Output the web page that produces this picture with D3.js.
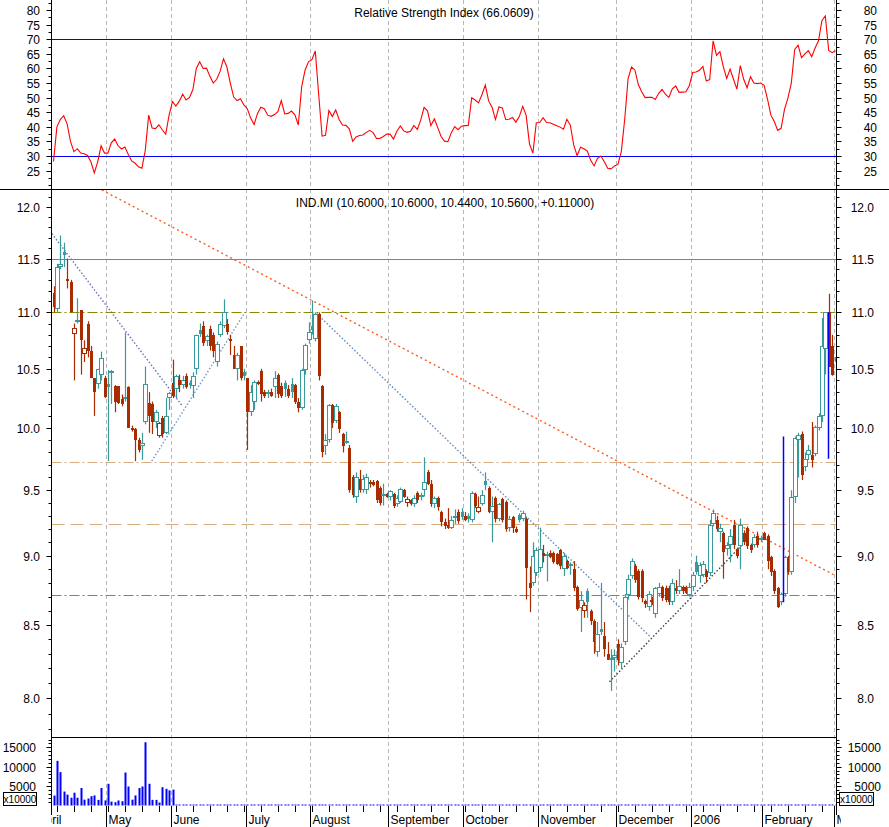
<!DOCTYPE html>
<html><head><meta charset="utf-8">
<script src="https://cdn.jsdelivr.net/npm/d3@7"></script>
<style>
body{margin:0;background:#fff}
svg{display:block}
text{font-family:"Liberation Sans",Arial,sans-serif;font-size:12px;fill:#000}
</style>
</head><body>
<svg id="c" width="889" height="827"></svg>
<script>
// ---------- DATA ----------
// candles: [open, high, low, close], one per trading day
const CANDLES = [
[11.18,11.24,11.00,11.05],[11.03,11.45,11.00,11.42],[11.42,11.72,11.40,11.45],[11.56,11.65,11.42,11.53],
[11.31,11.50,11.22,11.29],[11.28,11.30,11.00,11.00],[10.81,10.90,10.40,10.86],[10.92,11.13,10.90,10.93],
[11.02,11.02,10.45,10.75],[10.63,10.75,10.56,10.68],[10.90,10.92,10.60,10.66],[10.66,10.70,10.42,10.42],
[10.42,10.42,10.10,10.30],[10.37,10.50,10.33,10.50],[10.45,10.65,10.40,10.59],[10.42,10.44,10.25,10.26],
[10.37,10.49,9.73,10.34],[10.47,10.49,10.20,10.48],[10.35,10.36,10.13,10.22],[10.35,10.35,10.20,10.21],
[10.24,10.28,10.18,10.20],[10.25,10.82,10.22,10.26],[10.34,10.35,10.00,10.00],[10.00,10.02,9.97,9.98],
[9.99,10.00,9.73,9.90],[9.90,9.92,9.80,9.82],[9.85,9.96,9.74,9.88],[10.05,10.52,10.03,10.37],
[10.21,10.30,9.96,10.10],[10.20,10.22,9.95,10.05],[10.05,10.15,10.00,10.13],[9.93,10.05,9.92,10.04],
[10.08,10.10,9.92,9.95],[9.96,10.25,9.95,10.10],[10.25,10.30,10.15,10.29],[10.38,10.58,10.25,10.27],
[10.33,10.45,10.25,10.44],[10.40,10.45,10.30,10.36],[10.36,10.44,10.33,10.40],[10.44,10.46,10.33,10.34],
[10.38,10.40,10.33,10.36],[10.35,10.47,10.25,10.44],[10.50,10.80,10.45,10.80],[10.84,10.90,10.78,10.81],
[10.88,10.92,10.70,10.73],[10.74,10.80,10.70,10.79],[10.85,10.88,10.66,10.70],[10.80,10.82,10.60,10.66],
[10.56,10.74,10.52,10.72],[10.80,10.92,10.78,10.90],[10.88,11.12,10.86,11.00],[10.90,10.94,10.80,10.82],
[10.76,10.80,10.62,10.74],[10.62,10.70,10.50,10.50],[10.50,10.64,10.40,10.62],[10.70,10.70,10.40,10.42],
[10.47,10.50,10.40,10.44],[10.42,10.42,9.82,10.13],[10.13,10.36,10.10,10.30],[10.22,10.40,10.15,10.39],
[10.39,10.40,10.36,10.37],[10.48,10.50,10.22,10.28],[10.30,10.32,10.25,10.27],[10.28,10.32,10.25,10.30],
[10.30,10.33,10.26,10.27],[10.34,10.48,10.25,10.42],[10.45,10.46,10.25,10.28],[10.35,10.38,10.25,10.27],
[10.38,10.40,10.26,10.33],[10.33,10.36,10.25,10.27],[10.37,10.42,10.25,10.30],[10.36,10.37,10.20,10.22],
[10.22,10.25,10.13,10.17],[10.17,10.50,10.15,10.49],[10.49,10.72,10.45,10.71],[10.75,10.91,10.72,10.82],
[10.88,11.11,10.80,10.84],[10.76,11.00,10.74,10.99],[10.99,11.00,10.40,10.44],[10.35,10.36,9.76,9.80],
[9.85,9.95,9.78,9.90],[9.90,10.20,9.88,10.19],[10.19,10.20,10.00,10.04],[10.06,10.20,10.04,10.18],
[10.13,10.14,9.96,9.99],[9.95,9.96,9.80,9.85],[9.89,9.97,9.87,9.89],[9.84,9.86,9.48,9.50],
[9.60,9.62,9.44,9.46],[9.45,9.64,9.40,9.60],[9.59,9.66,9.48,9.50],[9.50,9.62,9.48,9.59],
[9.50,9.63,9.47,9.60],[9.56,9.58,9.52,9.55],[9.56,9.58,9.53,9.54],[9.57,9.58,9.40,9.42],
[9.52,9.53,9.38,9.40],[9.46,9.55,9.38,9.47],[9.47,9.48,9.44,9.45],[9.45,9.50,9.42,9.49],
[9.47,9.48,9.36,9.38],[9.39,9.46,9.37,9.44],[9.41,9.52,9.40,9.51],[9.50,9.51,9.44,9.45],
[9.40,9.45,9.37,9.43],[9.42,9.43,9.38,9.39],[9.39,9.46,9.37,9.44],[9.48,9.49,9.40,9.42],
[9.45,9.48,9.42,9.46],[9.50,9.76,9.45,9.56],[9.64,9.66,9.54,9.55],[9.55,9.58,9.37,9.39],
[9.39,9.45,9.36,9.44],[9.44,9.45,9.34,9.37],[9.33,9.34,9.22,9.25],[9.25,9.28,9.20,9.22],
[9.23,9.36,9.20,9.21],[9.21,9.30,9.20,9.27],[9.29,9.35,9.24,9.30],[9.33,9.35,9.24,9.26],
[9.33,9.36,9.27,9.29],[9.30,9.33,9.26,9.27],[9.30,9.32,9.25,9.28],[9.27,9.49,9.25,9.48],
[9.47,9.48,9.36,9.38],[9.33,9.45,9.32,9.37],[9.39,9.50,9.38,9.46],[9.57,9.64,9.50,9.54],
[9.52,9.53,9.32,9.33],[9.33,9.45,9.10,9.38],[9.44,9.45,9.25,9.28],[9.28,9.40,9.26,9.39],
[9.43,9.44,9.25,9.27],[9.41,9.42,9.18,9.20],[9.21,9.30,9.18,9.28],[9.29,9.30,9.17,9.21],
[9.20,9.22,9.17,9.18],[9.31,9.32,9.25,9.27],[9.28,9.34,9.26,9.32],[9.28,9.29,8.68,8.91],
[8.80,8.92,8.59,8.76],[8.80,9.10,8.78,9.00],[8.87,9.06,8.85,9.04],[8.91,9.21,8.88,9.05],
[9.02,9.08,8.95,9.00],[9.00,9.03,8.81,9.01],[9.02,9.04,8.98,8.99],[9.02,9.03,8.94,8.95],
[9.01,9.02,8.93,8.94],[9.04,9.05,8.90,8.92],[8.90,9.02,8.85,9.00],[8.96,8.97,8.90,8.91],
[8.92,8.95,8.86,8.94],[8.90,8.96,8.74,8.76],[8.77,8.78,8.60,8.61],[8.62,8.74,8.45,8.68],
[8.60,8.66,8.55,8.64],[8.74,8.76,8.55,8.66],[8.60,8.61,8.50,8.53],[8.53,8.54,8.30,8.38],
[8.31,8.52,8.28,8.44],[8.47,8.80,8.43,8.45],[8.42,8.52,8.28,8.33],[8.30,8.38,8.26,8.26],
[8.26,8.33,8.05,8.27],[8.27,8.33,8.18,8.29],[8.37,8.40,8.22,8.26],[8.24,8.37,8.20,8.35],
[8.38,8.72,8.36,8.70],[8.71,8.86,8.68,8.83],[8.85,8.98,8.83,8.96],[8.92,8.94,8.80,8.82],
[8.89,8.90,8.68,8.70],[8.89,8.90,8.66,8.69],[8.67,8.68,8.62,8.65],[8.63,8.74,8.60,8.72],
[8.66,8.70,8.64,8.68],[8.58,8.77,8.55,8.76],[8.72,8.80,8.70,8.77],[8.77,8.78,8.67,8.69],
[8.76,8.78,8.66,8.68],[8.76,8.78,8.64,8.66],[8.66,8.83,8.64,8.80],[8.76,8.82,8.72,8.74],
[8.74,8.90,8.72,8.78],[8.77,8.78,8.72,8.74],[8.77,8.78,8.72,8.73],[8.71,8.80,8.70,8.77],
[8.77,8.88,8.74,8.86],[8.95,9.00,8.86,8.88],[8.85,8.95,8.80,8.93],[8.86,8.96,8.84,8.94],
[8.89,8.90,8.80,8.84],[8.87,9.27,8.85,9.23],[9.24,9.35,9.22,9.32],[9.27,9.30,9.18,9.20],
[9.18,9.24,9.10,9.21],[9.17,9.18,8.83,9.03],[9.05,9.10,9.00,9.08],[9.08,9.20,8.95,9.15],
[9.23,9.27,9.05,9.08],[9.05,9.06,8.98,9.00],[9.07,9.28,8.90,9.23],[9.17,9.19,9.08,9.10],
[9.21,9.22,9.05,9.07],[9.08,9.09,9.02,9.04],[9.08,9.16,9.06,9.14],[9.15,9.18,9.06,9.08],
[9.12,9.15,9.10,9.13],[9.17,9.18,9.12,9.12],[9.15,9.16,8.90,8.96],[8.99,9.00,8.85,8.88],
[8.89,8.90,8.72,8.74],[8.76,8.77,8.62,8.63],[8.66,8.73,8.64,8.72],[8.72,9.00,8.70,8.99],
[8.98,9.00,8.86,8.88],[8.88,9.50,8.86,9.45],[9.45,9.93,9.40,9.92],[9.90,9.96,9.60,9.94],
[9.95,9.97,9.58,9.62],[9.68,9.80,9.65,9.75],[9.78,9.86,9.74,9.82],[9.78,10.05,9.68,9.74],
[9.79,10.02,9.77,10.01],[10.00,10.12,9.98,10.10],[10.10,10.95,10.05,10.70],[10.67,11.00,10.45,11.00],
[11.00,11.17,10.52,10.52],[10.70,10.80,10.44,10.45],[10.60,10.60,10.44,10.56]
];

const RSI = [
28.1,40,42.5,43.8,41,35,31.5,32.5,31,30.8,30.2,28,24.2,28,33.5,31,31,34.5,35.8,33.5,
32.4,33.1,30.5,28.3,27.5,26.3,25.8,32,44,39.6,39.4,40.7,39,37.5,44,48.7,47.1,48.8,51.2,49.2,
50.1,52.8,60,62.3,60,60.1,57.3,55,56.3,59,63.3,60.5,55,50.2,49,49.6,47.5,46.2,43,40.8,
44.6,46.7,46.2,44,43.6,44.2,45.2,49,44.4,44.6,45.4,44.1,40.6,53.8,59.5,62.3,63,66,51,36.8,
37.1,45.6,43.5,45.8,42.5,40.6,40.5,39.3,35,36.5,37,37.2,38.1,38.8,38,36,36,36.7,37.5,37.5,
35.8,38.5,40.3,38.6,38.1,38.5,40.5,39.1,42.3,46.7,45.5,40.4,42.7,39.8,36.7,35.1,34.9,38,40.1,39,
40.2,40.4,40.5,50,49.2,48.2,51,54.3,48.8,46.7,42.5,46.8,46.5,42.5,42.6,43.2,41.6,43.5,47,44,
34.1,31,41.4,41.5,43.1,41.5,41.4,40.9,40.4,39.9,39.2,42.6,40.6,33.8,30.1,33,32.5,31.7,28.5,26.6,
29.2,30,28,25.8,25.6,26.6,27.1,31.5,42.5,56.5,60.5,59.5,54.5,52,50,50.1,50.1,49.4,51.5,52.8,
51.1,50.1,53,54,51.8,51.9,52,54.1,58.6,58.8,59.4,60.7,55.7,56.2,69.5,64.5,65.8,60.6,56.6,59.8,
56.3,52.9,61,56.3,53.4,57.2,55,54.8,55,54.2,49.5,44,41.8,38.8,39.5,46,49.8,55,66.5,68,
63.7,65,66.1,64,67,69.5,76.4,78,66.2,65.4,66.06
];

// volume in units of 10000 shares (only the first days are reported)
const VOLUME = [2560,11500,8600,3600,2800,2000,3300,2000,4500,1500,1800,2400,2600,1450,4500,1300,5600,1000,
850,1300,1100,8500,4900,1500,2600,4500,4900,16300,5600,1450,1450,770,4700,4300,3900,4100];

// first trading-day index of each month
const MONTHS = [
 {label:"April",i:-5},{label:"May",i:16},{label:"June",i:35},{label:"July",i:57},{label:"August",i:76},
 {label:"September",i:99},{label:"October",i:121},{label:"November",i:143},{label:"December",i:166},
 {label:"2006",i:188},{label:"February",i:209},{label:"March",i:230}
];

const RSI_TICKS = [25,30,35,40,45,50,55,60,65,70,75,80];
const RSI_LEVELS = [30,70];
const PRICE_TICKS = [8.0,8.5,9.0,9.5,10.0,10.5,11.0,11.5,12.0];
const VOLUME_TICKS = [5000,10000,15000];

const LEVELS = [
 {v:11.5, color:"#7a7ac2", dash:null},
 {v:11.0, color:"#8a8a00", dash:"10,3,2,3"},
 {v:9.72, color:"#d6ae80", dash:"10,3,2,3"},
 {v:9.24, color:"#d6ae80", dash:"13,6"},
 {v:8.71, color:"#808080", dash:"10,3,2,3"}
];

// trend lines: [index, price] -> [index, price]
const TRENDS = [
 {a:[14.2,12.17], b:[229.4,8.86], color:"#ff5a1e", dash:"2,3"},
 {a:[-0.5,11.74], b:[37.7,10.19], color:"#6e6ec0", dash:"1.5,2"},
 {a:[28.9,9.73], b:[56.3,11.0], color:"#7098cc", dash:"1.5,2"},
 {a:[77.4,10.99], b:[175.4,8.42], color:"#6488bc", dash:"1.5,2"},
 {a:[163.5,8.11], b:[202.9,9.09], color:"#404040", dash:"1.5,2"}
];

const SPIKES = [{i:214.6, lo:8.66, hi:9.93},{i:227.9, lo:9.75, hi:11.0}];

const TITLE_RSI = "Relative Strength Index (66.0609)";
const TITLE_PRICE = "IND.MI (10.6000, 10.6000, 10.4400, 10.5600, +0.11000)";

// ---------- LAYOUT ----------
const L = 51.5, R = 836.5;
const RSI_TOP = 0, RSI_BOT = 189, P_TOP = 189, P_BOT = 737, V_TOP = 737, V_BOT = 806;
const UP = "#389a9a", DOWN = "#a82c00";

const svg = d3.select("#c");
const x = d3.scaleLinear().domain([0, CANDLES.length - 1]).range([53.5, 835.5]);
const yR = d3.scaleLinear().domain([30, 70]).range([156, 39.3]);
const yP = d3.scaleLog().domain([8, 12]).range([698.4, 207]);
const yV = d3.scaleLinear().domain([0, 15000]).range([805.5, 747.3]);
const px = v => Math.round(v) + 0.5;

const defs = svg.append("defs");
function clip(id, y0, y1) {
  defs.append("clipPath").attr("id", id).append("rect")
    .attr("x", L + 0.5).attr("y", y0).attr("width", R - L - 0.5).attr("height", y1 - y0);
}
clip("cR", RSI_TOP, RSI_BOT); clip("cP", P_TOP + 0.5, P_BOT); clip("cV", V_TOP + 0.5, V_BOT + 2);
defs.append("clipPath").attr("id", "cX").append("rect")
  .attr("x", L).attr("y", V_BOT).attr("width", 841 - L).attr("height", 30);

// month gridlines
const gridG = svg.append("g");
MONTHS.filter(m => x(m.i - 0.5) > L + 1 && x(m.i - 0.5) < R).forEach(m => {
  gridG.append("line").attr("x1", px(x(m.i - 0.5))).attr("x2", px(x(m.i - 0.5)))
    .attr("y1", 0).attr("y2", V_BOT).attr("stroke", "#b8b8b8").attr("stroke-dasharray", "4,3");
});

// ---- RSI panel ----
const gR = svg.append("g").attr("clip-path", "url(#cR)");
RSI_LEVELS.forEach(v => gR.append("line").attr("x1", L).attr("x2", R)
  .attr("y1", px(yR(v))).attr("y2", px(yR(v))).attr("stroke", "#0000ff"));
gR.append("path").datum(RSI)
  .attr("d", d3.line().x((d, i) => x(i)).y(d => yR(d)))
  .attr("fill", "none").attr("stroke", "#ff0000").attr("stroke-width", 1.1);
svg.append("text").attr("x", 444).attr("y", 17).attr("text-anchor", "middle").text(TITLE_RSI);

// ---- Price panel ----
const gP = svg.append("g").attr("clip-path", "url(#cP)");
LEVELS.forEach(l => {
  const ln = gP.append("line").attr("x1", L).attr("x2", R)
    .attr("y1", px(yP(l.v))).attr("y2", px(yP(l.v))).attr("stroke", l.color);
  if (l.dash) ln.attr("stroke-dasharray", l.dash);
});
TRENDS.forEach(t => {
  gP.append("line").attr("x1", x(t.a[0])).attr("y1", yP(t.a[1]))
    .attr("x2", x(t.b[0])).attr("y2", yP(t.b[1]))
    .attr("stroke", t.color).attr("stroke-width", 1.4).attr("stroke-dasharray", t.dash);
});
const cg = gP.append("g");
CANDLES.forEach((c, i) => {
  const [o, h, l, cl] = c;
  const prev = i > 0 ? CANDLES[i - 1][3] : o;
  const col = cl >= prev ? UP : DOWN;
  const xc = Math.round(x(i));
  cg.append("line").attr("x1", xc + 0.5).attr("x2", xc + 0.5)
    .attr("y1", yP(h)).attr("y2", yP(l)).attr("stroke", col).attr("stroke-width", 1.2);
  const yt = Math.round(yP(Math.max(o, cl))), yb = Math.round(yP(Math.min(o, cl)));
  const hgt = Math.max(1, yb - yt);
  if (cl < o) {
    cg.append("rect").attr("x", xc - 1).attr("y", yt).attr("width", 3).attr("height", hgt).attr("fill", col);
  } else {
    cg.append("rect").attr("x", xc - 1.5).attr("y", yt + 0.5).attr("width", 4).attr("height", Math.max(1, hgt - 1))
      .attr("fill", "#fff").attr("stroke", col).attr("stroke-width", 1);
  }
});
SPIKES.forEach(s => gP.append("line").attr("x1", px(x(s.i))).attr("x2", px(x(s.i)))
  .attr("y1", yP(s.hi)).attr("y2", yP(s.lo)).attr("stroke", "#0000ff").attr("stroke-width", 1.5));
svg.append("text").attr("x", 445).attr("y", 207).attr("text-anchor", "middle").text(TITLE_PRICE);

// ---- Volume panel ----
const gV = svg.append("g").attr("clip-path", "url(#cV)");
CANDLES.forEach((c, i) => {
  const v = i < VOLUME.length ? VOLUME[i] : 0;
  const yt = Math.min(yV(v), yV(0) - 1);
  gV.append("rect").attr("x", Math.round(x(i)) - 0.5).attr("y", yt).attr("width", 2)
    .attr("height", yV(0) - yt).attr("fill", "#0000ff");
});

// ---- separators & axes ----
svg.append("line").attr("x1", 0).attr("x2", 889).attr("y1", RSI_BOT + 0.5).attr("y2", RSI_BOT + 0.5).attr("stroke", "#000");
svg.append("line").attr("x1", L).attr("x2", R).attr("y1", P_BOT + 0.5).attr("y2", P_BOT + 0.5).attr("stroke", "#000");
[L, R].forEach(xx => svg.append("line").attr("x1", xx).attr("x2", xx).attr("y1", 0).attr("y2", 815).attr("stroke", "#000"));

function yAxis(scale, majors, minors, fmt, leftX, rightX, leftAnchor, rightAnchor) {
  const g = svg.append("g");
  minors.forEach(v => {
    const yy = px(scale(v));
    g.append("line").attr("x1", L - 3).attr("x2", L).attr("y1", yy).attr("y2", yy).attr("stroke", "#000");
    g.append("line").attr("x1", R).attr("x2", R + 3).attr("y1", yy).attr("y2", yy).attr("stroke", "#000");
  });
  majors.forEach(v => {
    const yy = px(scale(v));
    g.append("line").attr("x1", L - 5).attr("x2", L).attr("y1", yy).attr("y2", yy).attr("stroke", "#000");
    g.append("line").attr("x1", R).attr("x2", R + 5).attr("y1", yy).attr("y2", yy).attr("stroke", "#000");
    g.append("text").attr("x", leftX).attr("y", yy).attr("dy", "0.36em").attr("text-anchor", leftAnchor).text(fmt(v));
    g.append("text").attr("x", rightX).attr("y", yy).attr("dy", "0.36em").attr("text-anchor", rightAnchor).text(fmt(v));
  });
}
yAxis(yR, RSI_TICKS, d3.range(20, 83, 2.5), d3.format("d"), 40, 877, "end", "end");
yAxis(yP, PRICE_TICKS, d3.range(7.8, 12.15, 0.1), d3.format(".1f"), 40, 874, "end", "end");
yAxis(yV, VOLUME_TICKS, d3.range(1000, 17500, 1000), d3.format("d"), 36, 881, "end", "end");

// x10000 boxes
[[3.5, 33], [839.5, 34]].forEach(([bx, bw]) => {
  svg.append("rect").attr("x", bx).attr("y", 792.5).attr("width", bw).attr("height", 13)
    .attr("fill", "#fff").attr("stroke", "#000");
  svg.append("text").attr("x", bx + bw / 2).attr("y", 803).attr("text-anchor", "middle")
    .style("font-size", "10px").text("x10000");
});

// x axis
const gX = svg.append("g").attr("clip-path", "url(#cX)");
d3.range(1, CANDLES.length, 5).forEach(i => {
  gX.append("line").attr("x1", px(x(i))).attr("x2", px(x(i))).attr("y1", V_BOT).attr("y2", 812).attr("stroke", "#000");
});
MONTHS.forEach(m => {
  const xx = px(x(m.i - 0.5));
  gX.append("line").attr("x1", xx).attr("x2", xx).attr("y1", V_BOT).attr("y2", 827).attr("stroke", "#000");
  gX.append("text").attr("x", xx + 2).attr("y", 824).text(m.label);
});
</script>
</body></html>
